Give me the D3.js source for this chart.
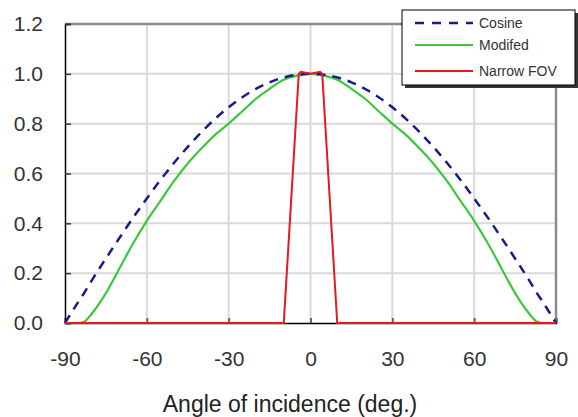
<!DOCTYPE html>
<html>
<head>
<meta charset="utf-8">
<script src="https://cdn.jsdelivr.net/npm/d3@7"></script>
<style>
  body { margin: 0; background: #fff; }
  svg { display: block; font-family: "Liberation Sans", Arial, sans-serif; }
</style>
</head>
<body>
<svg width="578" height="417"></svg>
<script>
const width = 578;
const height = 417;
const margin = { left: 65, right: 22, top: 24, bottom: 94 };

// data
const angles = [-90, -85, -83, -80, -75, -70, -65, -60, -55, -50, -45, -40, -35, -30, -25, -20, -15, -10, -5, 0,
  5, 10, 15, 20, 25, 30, 35, 40, 45, 50, 55, 60, 65, 70, 75, 80, 83, 85, 90];
const cosine = [0, 0.087, 0.12, 0.174, 0.259, 0.342, 0.423, 0.5, 0.574, 0.643, 0.707, 0.766, 0.819, 0.866, 0.906, 0.94, 0.966, 0.985, 0.996, 1.0,
  0.996, 0.985, 0.966, 0.94, 0.906, 0.866, 0.819, 0.766, 0.707, 0.643, 0.574, 0.5, 0.423, 0.342, 0.259, 0.174, 0.12, 0.087, 0];
const modified = [0, 0, 0.005, 0.04, 0.12, 0.22, 0.32, 0.41, 0.49, 0.57, 0.64, 0.70, 0.755, 0.80, 0.85, 0.90, 0.94, 0.975, 0.993, 1.0,
  0.993, 0.975, 0.94, 0.90, 0.85, 0.80, 0.755, 0.70, 0.64, 0.57, 0.49, 0.41, 0.32, 0.22, 0.12, 0.04, 0.005, 0, 0];
const fovAngles = [-90, -15, -9.8, -4.3, -3.5, 0, 3.5, 4.3, 9.8, 15, 90];
const narrowFov = [0, 0, 0, 1.0, 1.008, 1.0, 1.008, 1.0, 0, 0, 0];

const xTicks = [-90, -60, -30, 0, 30, 60, 90];
const yTicks = [0, 0.2, 0.4, 0.6, 0.8, 1.0, 1.2];
const seriesNames = ["Cosine", "Modifed", "Narrow FOV"];

let svg = d3.select("svg");

const x = d3.scaleLinear().domain([-90, 90]).range([margin.left, width - margin.right]);
const y = d3.scaleLinear().domain([0, 1.2]).range([height - margin.bottom, margin.top]);

// grid lines
svg.append("g")
  .selectAll("line")
  .data(xTicks.slice(1, -1))
  .join("line")
  .attr("x1", d => x(d)).attr("x2", d => x(d))
  .attr("y1", y(1.2)).attr("y2", y(0))
  .attr("stroke", "#d9d9d9").attr("stroke-width", 2);

svg.append("g")
  .selectAll("line")
  .data(yTicks.slice(1, -1))
  .join("line")
  .attr("x1", x(-90)).attr("x2", x(90))
  .attr("y1", d => y(d)).attr("y2", d => y(d))
  .attr("stroke", "#d9d9d9").attr("stroke-width", 2);

// top and right frame
svg.append("path")
  .attr("d", d3.line()([[x(-90), y(1.2)], [x(90), y(1.2)], [x(90), y(0)]]))
  .attr("fill", "none")
  .attr("stroke", "#8a8a8a")
  .attr("stroke-width", 2.5);

// axes, labels use a plain hyphen like the original
const fmtX = d => String(d);
const fmtY = d => d.toFixed(1);

const xAxis = svg.append("g")
  .attr("transform", `translate(0,${y(0)})`)
  .call(d3.axisBottom(x).tickValues(xTicks).tickSize(-5).tickPadding(28).tickFormat(fmtX));
xAxis.select(".domain").attr("stroke", "#000").attr("stroke-width", 1.5);
xAxis.selectAll(".tick line").attr("stroke", "#666").attr("stroke-width", 2);
xAxis.selectAll("text").attr("font-size", 21).attr("fill", "#333").attr("font-family", "Liberation Sans, Arial, sans-serif");

const yAxis = svg.append("g")
  .attr("transform", `translate(${x(-90)},0)`)
  .call(d3.axisLeft(y).tickValues(yTicks).tickSize(-6).tickPadding(22).tickFormat(fmtY));
yAxis.select(".domain").attr("stroke", "#000").attr("stroke-width", 1.5);
yAxis.selectAll(".tick line").attr("stroke", "#333").attr("stroke-width", 1.5);
yAxis.selectAll("text").attr("font-size", 21).attr("fill", "#333").attr("font-family", "Liberation Sans, Arial, sans-serif");

// series
const line = d3.line().x(d => x(d[0])).y(d => y(d[1]));
const smooth = d3.line().x(d => x(d[0])).y(d => y(d[1])).curve(d3.curveMonotoneX);

svg.append("path")
  .attr("d", smooth(d3.zip(angles, modified)))
  .attr("fill", "none").attr("stroke", "#3cc83c").attr("stroke-width", 2.2);

svg.append("path")
  .attr("d", smooth(d3.zip(angles, cosine)))
  .attr("fill", "none").attr("stroke", "#1a1a8c").attr("stroke-width", 2.5)
  .attr("stroke-dasharray", "9,7");

svg.append("path")
  .attr("d", line(d3.zip(fovAngles, narrowFov)))
  .attr("fill", "none").attr("stroke", "#e8191e").attr("stroke-width", 2);

// axis title
svg.append("text")
  .attr("x", 290)
  .attr("y", 412)
  .attr("text-anchor", "middle")
  .attr("font-size", 23)
  .attr("fill", "#222")
  .text("Angle of incidence (deg.)");

// legend
const legend = svg.append("g");
legend.append("rect")
  .attr("x", 405).attr("y", 13).attr("width", 173).attr("height", 75)
  .attr("fill", "#333");
legend.append("rect")
  .attr("x", 402).attr("y", 10).attr("width", 173).attr("height", 75)
  .attr("fill", "#fff").attr("stroke", "#000").attr("stroke-width", 1);

const legendY = [23, 45, 71];
const legendColor = ["#1a1a8c", "#3cc83c", "#e8191e"];
legend.selectAll("line.key")
  .data(seriesNames)
  .join("line")
  .attr("class", "key")
  .attr("x1", 415).attr("x2", 473)
  .attr("y1", (d, i) => legendY[i]).attr("y2", (d, i) => legendY[i])
  .attr("stroke", (d, i) => legendColor[i])
  .attr("stroke-width", (d, i) => i === 0 ? 2.5 : 2)
  .attr("stroke-dasharray", (d, i) => i === 0 ? "9,8" : null);

legend.selectAll("text")
  .data(seriesNames)
  .join("text")
  .attr("x", 479)
  .attr("y", (d, i) => legendY[i])
  .attr("dy", "0.35em")
  .attr("font-size", 14)
  .attr("fill", "#333")
  .text(d => d);
</script>
</body>
</html>
